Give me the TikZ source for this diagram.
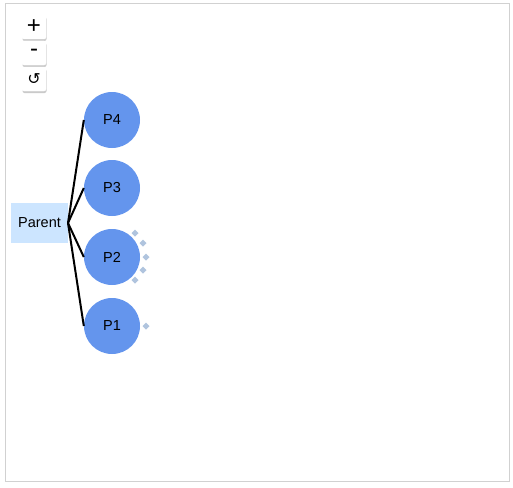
\documentclass[tikz,border=0pt]{standalone}
\usepackage{fontspec}
\setmainfont{Liberation Sans}
\newfontfamily\symfont{DejaVu Sans}
\usetikzlibrary{shadows}
\definecolor{circfill}{HTML}{6495ED}
\definecolor{parentfill}{HTML}{CCE5FF}
\definecolor{handle}{HTML}{B0C4DE}
\begin{document}
\begin{tikzpicture}[x=1pt,y=-1pt,
  btn/.style={draw=white,fill=white,minimum width=24pt,minimum height=24pt,inner sep=0pt,rounded corners=2pt,
    drop shadow={shadow xshift=0.5pt,shadow yshift=-2pt,fill=black!35,opacity=0.6}},
  child/.style={circle,fill=circfill,minimum size=56pt,inner sep=0pt,font=\fontsize{14.5}{16}\selectfont},
  parentbox/.style={fill=parentfill,minimum width=57pt,minimum height=40pt,inner sep=0pt,font=\fontsize{14.5}{16}\selectfont},
  link/.style={line width=2pt,black}
]
\useasboundingbox (0,0) rectangle (513,487);
\draw[black!18,line width=0.8pt] (5.5,3.5) rectangle (509.5,481.5);
\node[btn] (plus) at (34,27) {\fontsize{24}{24}\selectfont +};
\node[btn] (minus) at (34,53) {\fontsize{24}{24}\selectfont -};
\node[btn] (reset) at (34,79) {\symfont\fontsize{16}{16}\selectfont ↺};
\node[parentbox] (parent) at (39.5,223) {Parent};
\node[child] (p4) at (112,120) {P4};
\node[child] (p3) at (112,188) {P3};
\node[child] (p2) at (112,257) {P2};
\node[child] (p1) at (112,326) {P1};
\coordinate (pr) at (68,223);
\foreach \c in {p4,p3,p2,p1}{\draw[link] (pr) -- (\c.west);}
\foreach \p in {(135,233),(143,243),(146,257),(143,270),(135,280),(146,326)}{
  \fill[handle] \p ++(0,-3.5) -- ++(3.5,3.5) -- ++(-3.5,3.5) -- ++(-3.5,-3.5) -- cycle;}
\end{tikzpicture}
\end{document}
